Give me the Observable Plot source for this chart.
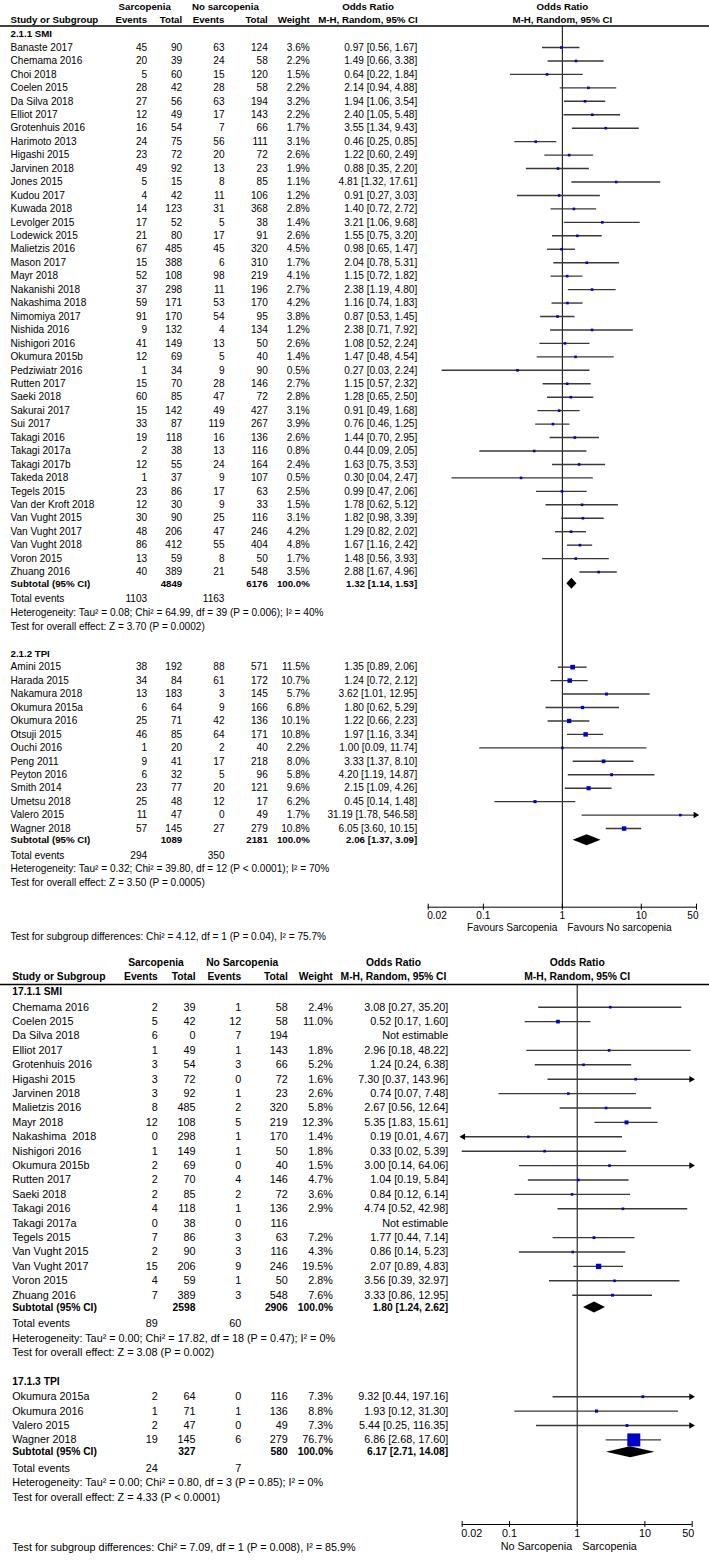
<!DOCTYPE html>
<html><head><meta charset="utf-8">
<script src="https://cdn.jsdelivr.net/npm/d3@7"></script>
<script src="https://cdn.jsdelivr.net/npm/@observablehq/plot@0.6"></script>
<style>
html,body{margin:0;padding:0;background:#fff;}
#chart{width:709px;}
#chart svg{display:block;}
</style></head><body><div id="chart"></div>
<script>
// ================= DATA =================
const colHeaders = ["Study or Subgroup", "Events", "Total", "Events", "Total", "Weight"];
const orHeader = ["Odds Ratio", "M-H, Random, 95% CI"];
const tickValues = [0.02, 0.1, 1, 10, 50];
const tickLabels = ["0.02", "0.1", "1", "10", "50"];

// ---- Panel A: 2.1 ----
const aHeader = ["Sarcopenia", "No sarcopenia"];
const aGroupLabels = ["2.1.1 SMI", "2.1.2 TPI"];
const a1Study = ["Banaste 2017","Chemama 2016","Choi 2018","Coelen 2015","Da Silva 2018","Elliot 2017","Grotenhuis 2016","Harimoto 2013","Higashi 2015","Jarvinen 2018","Jones 2015","Kudou 2017","Kuwada 2018","Levolger 2015","Lodewick 2015","Malietzis 2016","Mason 2017","Mayr 2018","Nakanishi 2018","Nakashima 2018","Nimomiya 2017","Nishida 2016","Nishigori 2016","Okumura 2015b","Pedziwiatr 2016","Rutten 2017","Saeki 2018","Sakurai 2017","Sui 2017","Takagi 2016","Takagi 2017a","Takagi 2017b","Takeda 2018","Tegels 2015","Van der Kroft 2018","Van Vught 2015","Van Vught 2017","Van Vught 2018","Voron 2015","Zhuang 2016"];
const a1SarcEv  = [45,20,5,28,27,12,16,24,23,49,5,4,14,17,21,67,15,52,37,59,91,9,41,12,1,15,60,15,33,19,2,12,1,23,12,30,48,86,13,40];
const a1SarcTot = [90,39,60,42,56,49,54,75,72,92,15,42,123,52,80,485,388,108,298,171,170,132,149,69,34,70,85,142,87,118,38,55,37,86,30,90,206,412,59,389];
const a1NoEv    = [63,24,15,28,63,17,7,56,20,13,8,11,31,5,17,45,6,98,11,53,54,4,13,5,9,28,47,49,119,16,13,24,9,17,9,25,47,55,8,21];
const a1NoTot   = [124,58,120,58,194,143,66,111,72,23,85,106,368,38,91,320,310,219,196,170,95,134,50,40,90,146,72,427,267,136,116,164,107,63,33,116,246,404,50,548];
const a1Weight  = [3.6,2.2,1.5,2.2,3.2,2.2,1.7,3.1,2.6,1.9,1.1,1.2,2.8,1.4,2.6,4.5,1.7,4.1,2.7,4.2,3.8,1.2,2.6,1.4,0.5,2.7,2.8,3.1,3.9,2.6,0.8,2.4,0.5,2.5,1.5,3.1,4.2,4.8,1.7,3.5];
const a1OR = [0.97,1.49,0.64,2.14,1.94,2.40,3.55,0.46,1.22,0.88,4.81,0.91,1.40,3.21,1.55,0.98,2.04,1.15,2.38,1.16,0.87,2.38,1.08,1.47,0.27,1.15,1.28,0.91,0.76,1.44,0.44,1.63,0.30,0.99,1.78,1.82,1.29,1.67,1.48,2.88];
const a1Lo = [0.56,0.66,0.22,0.94,1.06,1.05,1.34,0.25,0.60,0.35,1.32,0.27,0.72,1.06,0.75,0.65,0.78,0.72,1.19,0.74,0.53,0.71,0.52,0.48,0.03,0.57,0.65,0.49,0.46,0.70,0.09,0.75,0.04,0.47,0.62,0.98,0.82,1.16,0.56,1.67];
const a1Hi = [1.67,3.38,1.84,4.88,3.54,5.48,9.43,0.85,2.49,2.20,17.61,3.03,2.72,9.68,3.20,1.47,5.31,1.82,4.80,1.83,1.45,7.92,2.24,4.54,2.24,2.32,2.50,1.68,1.25,2.95,2.05,3.53,2.47,2.06,5.12,3.39,2.02,2.42,3.93,4.96];

const a2Study = ["Amini 2015","Harada 2015","Nakamura 2018","Okumura 2015a","Okumura 2016","Otsuji 2015","Ouchi 2016","Peng 2011","Peyton 2016","Smith 2014","Umetsu 2018","Valero 2015","Wagner 2018"];
const a2SarcEv  = [38,34,13,6,25,46,1,9,6,23,25,11,57];
const a2SarcTot = [192,84,183,64,71,85,20,41,32,77,48,47,145];
const a2NoEv    = [88,61,3,9,42,64,2,17,5,20,12,0,27];
const a2NoTot   = [571,172,145,166,136,171,40,218,96,121,17,49,279];
const a2Weight  = [11.5,10.7,5.7,6.8,10.1,10.8,2.2,8.0,5.8,9.6,6.2,1.7,10.8];
const a2OR = [1.35,1.24,3.62,1.80,1.22,1.97,1.00,3.33,4.20,2.15,0.45,31.19,6.05];
const a2Lo = [0.89,0.72,1.01,0.62,0.66,1.16,0.09,1.37,1.19,1.09,0.14,1.78,3.60];
const a2Hi = [2.06,2.12,12.95,5.29,2.23,3.34,11.74,8.10,14.87,4.26,1.48,546.58,10.15];

const aSubSarcTot = [4849, 1089];
const aSubNoTot = [6176, 2181];
const aSubOR = [1.32, 2.06];
const aSubLo = [1.14, 1.37];
const aSubHi = [1.53, 3.09];
const aTotSarcEv = [1103, 294];
const aTotNoEv = [1163, 350];
const aHet = ["Heterogeneity: Tau² = 0.08; Chi² = 64.99, df = 39 (P = 0.006); I² = 40%", "Heterogeneity: Tau² = 0.32; Chi² = 39.80, df = 12 (P < 0.0001); I² = 70%"];
const aOverall = ["Test for overall effect: Z = 3.70 (P = 0.0002)", "Test for overall effect: Z = 3.50 (P = 0.0005)"];
const aSubgroupTest = "Test for subgroup differences: Chi² = 4.12, df = 1 (P = 0.04), I² = 75.7%";
const aFavours = ["Favours Sarcopenia", "Favours No sarcopenia"];

// ---- Panel B: 17.1 ----
const bHeader = ["Sarcopenia", "No Sarcopenia"];
const bGroupLabels = ["17.1.1 SMI", "17.1.3 TPI"];
const b1Study = ["Chemama 2016","Coelen 2015","Da Silva 2018","Elliot 2017","Grotenhuis 2016","Higashi 2015","Jarvinen 2018","Malietzis 2016","Mayr 2018","Nakashima  2018","Nishigori 2016","Okumura 2015b","Rutten 2017","Saeki 2018","Takagi 2016","Takagi 2017a","Tegels 2015","Van Vught 2015","Van Vught 2017","Voron 2015","Zhuang 2016"];
const b1SarcEv  = [2,5,6,1,3,3,3,8,12,0,1,2,2,2,4,0,7,2,15,4,7];
const b1SarcTot = [39,42,0,49,54,72,92,485,108,298,149,69,70,85,118,38,86,90,206,59,389];
const b1NoEv    = [1,12,7,1,3,0,1,2,5,1,1,0,4,2,1,0,3,3,9,1,3];
const b1NoTot   = [58,58,194,143,66,72,23,320,219,170,50,40,146,72,136,116,63,116,246,50,548];
const b1Weight  = [2.4,11.0,null,1.8,5.2,1.6,2.6,5.8,12.3,1.4,1.8,1.5,4.7,3.6,2.9,null,7.2,4.3,19.5,2.8,7.6];
const b1OR = [3.08,0.52,null,2.96,1.24,7.30,0.74,2.67,5.35,0.19,0.33,3.00,1.04,0.84,4.74,null,1.77,0.86,2.07,3.56,3.33];
const b1Lo = [0.27,0.17,null,0.18,0.24,0.37,0.07,0.56,1.83,0.01,0.02,0.14,0.19,0.12,0.52,null,0.44,0.14,0.89,0.39,0.86];
const b1Hi = [35.20,1.60,null,48.22,6.38,143.96,7.48,12.64,15.61,4.67,5.39,64.06,5.84,6.14,42.98,null,7.14,5.23,4.83,32.97,12.95];

const b2Study = ["Okumura 2015a","Okumura 2016","Valero 2015","Wagner 2018"];
const b2SarcEv  = [2,1,2,19];
const b2SarcTot = [64,71,47,145];
const b2NoEv    = [0,1,0,6];
const b2NoTot   = [116,136,49,279];
const b2Weight  = [7.3,8.8,7.3,76.7];
const b2OR = [9.32,1.93,5.44,6.86];
const b2Lo = [0.44,0.12,0.25,2.68];
const b2Hi = [197.16,31.30,116.35,17.60];

const bSubSarcTot = [2598, 327];
const bSubNoTot = [2906, 580];
const bSubOR = [1.80, 6.17];
const bSubLo = [1.24, 2.71];
const bSubHi = [2.62, 14.08];
const bTotSarcEv = [89, 24];
const bTotNoEv = [60, 7];
const bHet = ["Heterogeneity: Tau² = 0.00; Chi² = 17.82, df = 18 (P = 0.47); I² = 0%", "Heterogeneity: Tau² = 0.00; Chi² = 0.80, df = 3 (P = 0.85); I² = 0%"];
const bOverall = ["Test for overall effect: Z = 3.08 (P = 0.002)", "Test for overall effect: Z = 4.33 (P < 0.0001)"];
const bSubgroupTest = "Test for subgroup differences: Chi² = 7.09, df = 1 (P = 0.008), I² = 85.9%";
const bFavours = ["No Sarcopenia", "Sarcopenia"];

// ================= LAYOUT / BUILD =================
const f2 = v => v.toFixed(2);
const orText = (o, l, h) => o == null ? "Not estimable" : `${f2(o)} [${f2(l)}, ${f2(h)}]`;

function buildPanel(P) {
  const L = P.layout, C = P.cols;
  const cells = [];
  const add = (t, y, c, b = false) => { if (t !== null && t !== undefined && t !== "") cells.push({t: String(t), y, c, b}); };
  add(P.header[0], L.hdr1, "sarcHdr", true);
  add(P.header[1], L.hdr1, "noHdr", true);
  add(orHeader[0], L.hdr1, "orHdr", true);
  add(orHeader[1], L.hdr2, "orHdr", true);
  const hdrCols = ["study", "sE", "sT", "nE", "nT", "wt"];
  colHeaders.forEach((h, i) => add(h, L.hdr2, hdrCols[i], true));

  const studies = [], diamonds = [];
  let y = L.line + L.lineToLabel;
  P.groups.forEach((g, gi) => {
    if (gi > 0) y += L.groupGap;
    add(g.label, y, "study", true);
    y += L.labelToRow - L.rowH;
    g.study.forEach((s, i) => {
      y += L.rowH;
      add(s, y, "study");
      add(g.sE[i], y, "sE"); add(g.sT[i], y, "sT");
      add(g.nE[i], y, "nE"); add(g.nT[i], y, "nT");
      add(g.w[i] == null ? "" : g.w[i].toFixed(1) + "%", y, "wt");
      add(orText(g.or[i], g.lo[i], g.hi[i]), y, "or");
      if (g.or[i] != null) studies.push({y, or: g.or[i], lo: g.lo[i], hi: g.hi[i], w: g.w[i]});
    });
    y += L.subGap;
    add("Subtotal (95% CI)", y, "study", true);
    add(g.subST, y, "sT", true); add(g.subNT, y, "nT", true);
    add("100.0%", y, "wt", true);
    add(orText(g.subOR, g.subLo, g.subHi), y, "or", true);
    diamonds.push({y, or: g.subOR, lo: g.subLo, hi: g.subHi});
    y += L.totGap;
    add("Total events", y, "study"); add(g.totS, y, "sE"); add(g.totN, y, "nE");
    y += L.textGap; add(g.het, y, "study");
    y += L.textGap; add(g.overall, y, "study");
  });
  add(P.subgroupTest, L.subDiff, "study");

  const anchors = {study: "start", sarcHdr: "middle", noHdr: "middle", orHdr: "middle"};
  const textMarks = [];
  for (const c of Object.keys(C)) for (const b of [false, true]) {
    const data = cells.filter(d => d.c === c && d.b === b);
    if (!data.length) continue;
    textMarks.push(Plot.text(data, {y: "y", text: "t", frameAnchor: "left", dx: C[c],
      textAnchor: anchors[c] || "end", fontWeight: b ? "bold" : "normal",
      fontSize: b ? P.boldSize : P.fontSize, fill: "black"}));
  }

  const xMin = tickValues[0], xMax = tickValues[tickValues.length - 1];
  const h = P.diamondH;
  const dpts = diamonds.flatMap((d, i) => [
    {x: d.lo, y1: d.y, y2: d.y, z: i},
    {x: d.or, y1: d.y - h, y2: d.y + h, z: i},
    {x: d.hi, y1: d.y, y2: d.y, z: i}
  ]);
  const side = w => Math.max(P.minSide, P.sqK * Math.pow(w, 0.65));
  const ticks = tickValues.map((v, i) => ({v, label: tickLabels[i], i}));
  const n = ticks.length;

  return Plot.plot({
    width: 709, height: P.H,
    marginTop: 0, marginBottom: 0, marginLeft: 0, marginRight: 0,
    style: {fontFamily: "'Liberation Sans', Arial, sans-serif", fontSize: P.fontSize + "px", background: "white", color: "black", overflow: "visible"},
    x: {type: "log", domain: [xMin, xMax], range: P.xRange, clamp: true, axis: null},
    y: {type: "linear", domain: [0, P.H], range: [0, P.H], axis: null},
    r: {type: "identity"},
    marks: [
      Plot.ruleY([L.line], {stroke: "black", strokeWidth: 1.5}),
      Plot.ruleX([1], {y1: () => L.line, y2: () => L.axis, stroke: "black", strokeWidth: 1}),
      Plot.ruleY(studies, {y: "y", x1: "lo", x2: "hi", stroke: "#383838", strokeWidth: 1.4}),
      Plot.dot(studies.filter(d => d.hi > xMax), {x: "hi", y: "y", symbol: "triangle", rotate: 90, r: 2.4, fill: "black", dx: -1}),
      Plot.dot(studies.filter(d => d.lo < xMin), {x: "lo", y: "y", symbol: "triangle", rotate: -90, r: 2.4, fill: "black", dx: 1}),
      Plot.dot(studies, {x: "or", y: "y", symbol: "square", r: d => side(d.w) / Math.sqrt(Math.PI), fill: "#0000cc", stroke: "none"}),
      Plot.areaY(dpts, {x: "x", y1: "y1", y2: "y2", z: "z", fill: "black"}),
      // axis
      Plot.ruleY([L.axis], {x1: () => xMin, x2: () => xMax, stroke: "black", strokeWidth: 1}),
      Plot.ruleX(tickValues, {x: d => d, y1: () => L.axis - 3, y2: () => L.axis + 3, stroke: "black", strokeWidth: 1}),
      Plot.text(ticks.filter(t => t.i === 0), {x: "v", y: () => L.tickLbl, text: "label", textAnchor: "start", dx: -1, fontSize: P.fontSize}),
      Plot.text(ticks.filter(t => t.i > 0 && t.i < n - 1), {x: "v", y: () => L.tickLbl, text: "label", textAnchor: "middle", fontSize: P.fontSize}),
      Plot.text(ticks.filter(t => t.i === n - 1), {x: "v", y: () => L.tickLbl, text: "label", textAnchor: "end", dx: 2, fontSize: P.fontSize}),
      Plot.text([P.favours[0]], {x: () => 1, y: () => L.fav, text: d => d, textAnchor: "end", dx: -5, fontSize: P.fontSize}),
      Plot.text([P.favours[1]], {x: () => 1, y: () => L.fav, text: d => d, textAnchor: "start", dx: 5, fontSize: P.fontSize}),
      // plot header centred on the line of no effect
      Plot.text(orHeader, {x: () => 1, y: (d, i) => i === 0 ? L.hdr1 : L.hdr2, text: d => d, textAnchor: "middle", fontWeight: "bold", fontSize: P.boldSize}),
      ...textMarks
    ]
  });
}

const groupsA = [
  {label: aGroupLabels[0], study: a1Study, sE: a1SarcEv, sT: a1SarcTot, nE: a1NoEv, nT: a1NoTot, w: a1Weight, or: a1OR, lo: a1Lo, hi: a1Hi,
   subST: aSubSarcTot[0], subNT: aSubNoTot[0], subOR: aSubOR[0], subLo: aSubLo[0], subHi: aSubHi[0], totS: aTotSarcEv[0], totN: aTotNoEv[0], het: aHet[0], overall: aOverall[0]},
  {label: aGroupLabels[1], study: a2Study, sE: a2SarcEv, sT: a2SarcTot, nE: a2NoEv, nT: a2NoTot, w: a2Weight, or: a2OR, lo: a2Lo, hi: a2Hi,
   subST: aSubSarcTot[1], subNT: aSubNoTot[1], subOR: aSubOR[1], subLo: aSubLo[1], subHi: aSubHi[1], totS: aTotSarcEv[1], totN: aTotNoEv[1], het: aHet[1], overall: aOverall[1]}
];
const groupsB = [
  {label: bGroupLabels[0], study: b1Study, sE: b1SarcEv, sT: b1SarcTot, nE: b1NoEv, nT: b1NoTot, w: b1Weight, or: b1OR, lo: b1Lo, hi: b1Hi,
   subST: bSubSarcTot[0], subNT: bSubNoTot[0], subOR: bSubOR[0], subLo: bSubLo[0], subHi: bSubHi[0], totS: bTotSarcEv[0], totN: bTotNoEv[0], het: bHet[0], overall: bOverall[0]},
  {label: bGroupLabels[1], study: b2Study, sE: b2SarcEv, sT: b2SarcTot, nE: b2NoEv, nT: b2NoTot, w: b2Weight, or: b2OR, lo: b2Lo, hi: b2Hi,
   subST: bSubSarcTot[1], subNT: bSubNoTot[1], subOR: bSubOR[1], subLo: bSubLo[1], subHi: bSubHi[1], totS: bTotSarcEv[1], totN: bTotNoEv[1], het: bHet[1], overall: bOverall[1]}
];

const panelA = buildPanel({
  H: 945, xRange: [427.7, 696], fontSize: 10.1, boldSize: 9.7, diamondH: 5.5, sqK: 0.95, minSide: 2.6,
  header: aHeader, favours: aFavours, subgroupTest: aSubgroupTest, groups: groupsA,
  cols: {study: 10, sE: 146.7, sT: 181.7, nE: 224, nT: 267.3, wt: 309.3, or: 416.7, sarcHdr: 144.2, noHdr: 224.9, orHdr: 367.5},
  layout: {hdr1: 6.5, hdr2: 19.5, line: 25.5, lineToLabel: 8, labelToRow: 13.5, rowH: 13.45, subGap: 11.6, totGap: 15.5, textGap: 13.6, groupGap: 27.3, axis: 906.7, tickLbl: 915.5, fav: 927, subDiff: 936.5}
});
const panelB = buildPanel({
  H: 616, xRange: [461.7, 691.7], fontSize: 10.8, boldSize: 10.3, diamondH: 5.5, sqK: 0.774, minSide: 2.6,
  header: bHeader, favours: bFavours, subgroupTest: bSubgroupTest, groups: groupsB,
  cols: {study: 11.7, sE: 157.3, sT: 195, nE: 240.7, nT: 287.3, wt: 332.3, or: 447.7, sarcHdr: 155.5, noHdr: 241.7, orHdr: 393},
  layout: {hdr1: 17.7, hdr2: 31.7, line: 39, lineToLabel: 7.7, labelToRow: 15, rowH: 14.4, subGap: 12.3, totGap: 16.4, textGap: 14.4, groupGap: 29, axis: 579, tickLbl: 587.7, fav: 601, subDiff: 601.7}
});
document.getElementById("chart").append(panelA, panelB);
</script>
</body></html>
